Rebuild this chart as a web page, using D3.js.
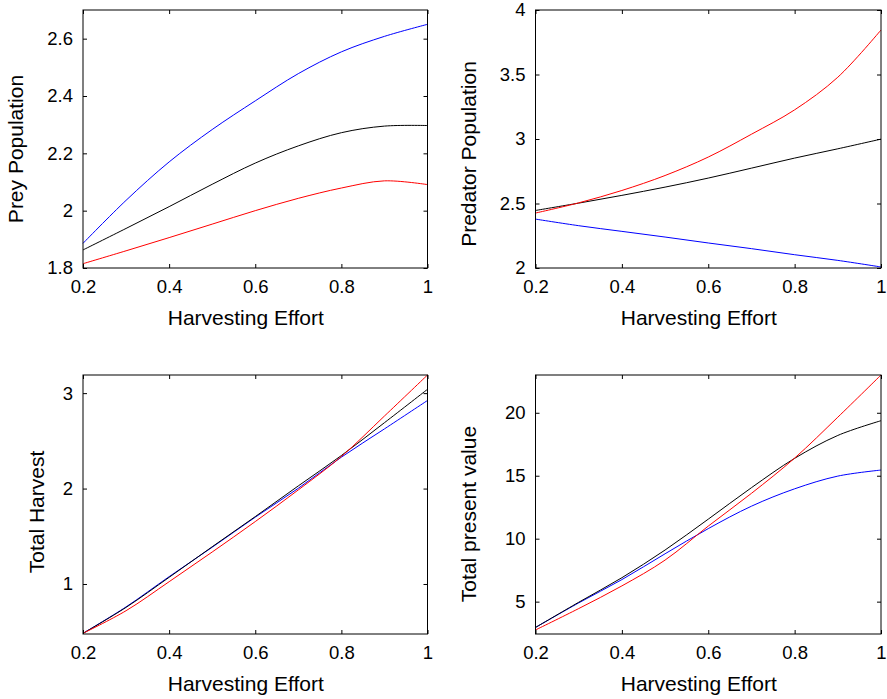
<!DOCTYPE html>
<html>
<head>
<meta charset="utf-8">
<script src="https://cdn.jsdelivr.net/npm/d3@7"></script>
<style>
  body { margin: 0; background: #fff; }
  text { font-family: "Liberation Sans", Arial, Helvetica, sans-serif; fill: #000; }
</style>
</head>
<body>
<svg width="887" height="699"></svg>
<script>
// harvesting effort values (x)
var effort = [0.2, 0.3, 0.4, 0.5, 0.6, 0.7, 0.8, 0.9, 1.0];
var xTicks = [0.2, 0.4, 0.6, 0.8, 1];

// prey population
var preyBlue  = [1.886, 2.036, 2.170, 2.283, 2.383, 2.478, 2.554, 2.608, 2.650];
var preyBlack = [1.863, 1.938, 2.014, 2.092, 2.166, 2.226, 2.272, 2.295, 2.297];
var preyRed   = [1.815, 1.860, 1.906, 1.953, 2.000, 2.043, 2.079, 2.104, 2.091];

// predator population
var predBlue  = [2.379, 2.328, 2.284, 2.240, 2.194, 2.150, 2.103, 2.059, 2.008];
var predBlack = [2.446, 2.503, 2.563, 2.627, 2.697, 2.774, 2.852, 2.924, 2.999];
var predRed   = [2.426, 2.505, 2.601, 2.717, 2.860, 3.037, 3.226, 3.479, 3.845];

// total harvest
var harvBlue  = [0.483, 0.760, 1.077, 1.385, 1.700, 2.003, 2.329, 2.625, 2.923];
var harvBlack = [0.483, 0.755, 1.070, 1.390, 1.706, 2.028, 2.346, 2.690, 3.040];
var harvRed   = [0.483, 0.720, 1.024, 1.335, 1.654, 1.986, 2.336, 2.760, 3.190];

// total present value
var pvBlue  = [2.95, 4.90, 6.75, 8.80, 10.80, 12.58, 13.96, 14.97, 15.45];
var pvBlack = [2.95, 4.95, 6.90, 9.10, 11.55, 14.05, 16.38, 18.20, 19.37];
var pvRed   = [2.75, 4.45, 6.25, 8.30, 11.00, 13.60, 16.40, 19.65, 23.00];

var svg = d3.select("svg");

var panels = [
    { x0: 83, x1: 427.5, y0: 10, y1: 268, dom: [1.8, 2.7], ticks: [1.8, 2, 2.2, 2.4, 2.6],
      label: "Prey Population", labX: 23, labY: 149, series: [preyBlue, preyBlack, preyRed] },
    { x0: 535.5, x1: 881, y0: 10, y1: 268, dom: [2, 4], ticks: [2, 2.5, 3, 3.5, 4],
      label: "Predator Population", labX: 476, labY: 154, series: [predBlue, predBlack, predRed] },
    { x0: 83, x1: 427.5, y0: 375, y1: 634, dom: [0.476, 3.19], ticks: [1, 2, 3],
      label: "Total Harvest", labX: 43.5, labY: 512, series: [harvBlue, harvBlack, harvRed] },
    { x0: 535.5, x1: 881, y0: 375, y1: 634, dom: [2.43, 23], ticks: [5, 10, 15, 20],
      label: "Total present value", labX: 476, labY: 514, series: [pvBlue, pvBlack, pvRed] }
];
var colors = ["#0000ff", "#000000", "#ff0000"];

panels.forEach(function (p) {
    var x = d3.scaleLinear().domain([0.2, 1]).range([p.x0, p.x1]);
    var y = d3.scaleLinear().domain(p.dom).range([p.y1, p.y0]);
    var g = svg.append("g");

    var line = d3.line()
        .x(function (d, i) { return x(effort[i]); })
        .y(function (d) { return y(d); })
        .curve(d3.curveCatmullRom.alpha(0.5));

    g.append("g").selectAll("path")
        .data(p.series)
        .enter().append("path")
        .attr("d", line)
        .attr("fill", "none")
        .attr("stroke", function (d, i) { return colors[i]; })
        .attr("stroke-width", 1);

    // axes: ticks drawn inwards on all four sides
    var fmt = function (d) { return String(d); };
    var tl = 4;
    g.append("g").attr("transform", "translate(0," + p.y1 + ")")
        .call(d3.axisBottom(x).tickValues(xTicks).tickFormat(fmt).tickSizeInner(-tl).tickSizeOuter(0).tickPadding(12));
    g.append("g").attr("transform", "translate(0," + p.y0 + ")")
        .call(d3.axisTop(x).tickValues(xTicks).tickFormat("").tickSizeInner(-tl).tickSizeOuter(0));
    g.append("g").attr("transform", "translate(" + p.x0 + ",0)")
        .call(d3.axisLeft(y).tickValues(p.ticks).tickFormat(fmt).tickSizeInner(-tl).tickSizeOuter(0).tickPadding(10));
    g.append("g").attr("transform", "translate(" + p.x1 + ",0)")
        .call(d3.axisRight(y).tickValues(p.ticks).tickFormat("").tickSizeInner(-tl).tickSizeOuter(0));

    g.selectAll(".domain").remove();
    g.selectAll(".tick line").attr("stroke", "#000");
    g.selectAll(".tick text")
        .style("font-size", "18.5px")
        .style("font-family", "'Liberation Sans', Arial, sans-serif")
        .attr("fill", "#000");

    g.append("rect")
        .attr("x", p.x0).attr("y", p.y0)
        .attr("width", p.x1 - p.x0).attr("height", p.y1 - p.y0)
        .attr("fill", "none").attr("stroke", "#000").attr("stroke-width", 1);

    g.append("text")
        .attr("x", (p.x0 + p.x1) / 2 - 9.5)
        .attr("y", p.y1 + 57)
        .attr("text-anchor", "middle")
        .style("font-size", "21px")
        .text("Harvesting Effort");

    g.append("text")
        .attr("transform", "translate(" + p.labX + "," + p.labY + ") rotate(-90)")
        .attr("text-anchor", "middle")
        .style("font-size", "21px")
        .text(p.label);
});
</script>
</body>
</html>
